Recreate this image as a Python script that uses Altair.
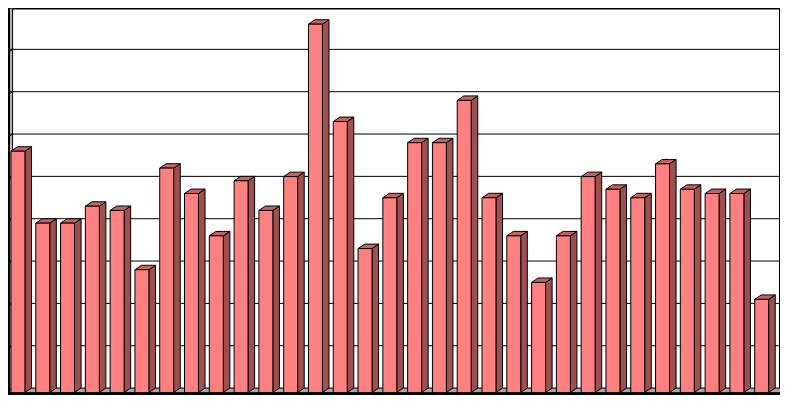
import altair as alt
import pandas as pd

# ---- data ----
categories = [str(i) for i in range(1, 32)]
values = [5.7, 4.0, 4.0, 4.4, 4.3, 2.9, 5.3, 4.7, 3.7, 5.0, 4.3, 5.1, 8.7, 6.4, 3.4, 4.6,
          5.9, 5.9, 6.9, 4.6, 3.7, 2.6, 3.7, 5.1, 4.8, 4.6, 5.4, 4.8, 4.7, 4.7, 2.2]
grid_values = [1, 2, 3, 4, 5, 6, 7, 8, 9]

# ---- geometry constants (in scale units) ----
FRONT = 0.5625   # front face width as fraction of one category slot
DX = 0.265       # depth offset along x
DY = 0.105       # depth offset along y (value units)
XA = -0.2        # front edge of left wall
XMIN, XMAX = -0.04, 31.02
YMAX = 9.07
W, H = 772, 385

xs = alt.Scale(domain=[XMIN, XMAX], nice=False, zero=False)
ys = alt.Scale(domain=[0, YMAX], nice=False, zero=False)

bars = pd.DataFrame({
    "cat": categories,
    "value": values,
    "left": [i for i in range(len(values))],
})
bars["right"] = bars["left"] + FRONT

side_rows, top_rows = [], []
for c, v, l, r in zip(bars["cat"], bars["value"], bars["left"], bars["right"]):
    side_rows += [dict(cat=c, x=r, y=v, y2=0), dict(cat=c, x=r + DX, y=v + DY, y2=DY)]
    top_rows += [dict(cat=c, x=l, y=v, y2=v), dict(cat=c, x=l + DX, y=v + DY, y2=v),
                 dict(cat=c, x=r, y=v + DY, y2=v), dict(cat=c, x=r + DX, y=v + DY, y2=v + DY)]
side_df = pd.DataFrame(side_rows)
top_df = pd.DataFrame(top_rows)

floor_df = pd.DataFrame([dict(x=XA, y=0, y2=0), dict(x=XA + DX, y=DY, y2=0),
                         dict(x=XMAX + 0.5, y=DY, y2=0), dict(x=XMAX + 0.5 + DX, y=DY, y2=DY)])
wall_df = pd.DataFrame([dict(x=XA, y=YMAX + 1, y2=0), dict(x=XA + DX, y=YMAX + 1 + DY, y2=DY)])
grid_df = pd.DataFrame({"g": grid_values})
grid_df["gy"] = grid_df["g"] + DY

X = lambda f: alt.X(f, type="quantitative", scale=xs, axis=None)
Y = lambda f: alt.Y(f, type="quantitative", scale=ys, axis=None)

wall = alt.Chart(wall_df).mark_area(color="#B0B0B0", stroke="black", strokeWidth=1, clip=True).encode(
    x=X("x"), y=Y("y"), y2="y2")
floor = alt.Chart(floor_df).mark_area(color="#A6A6A6", stroke="black", strokeWidth=1, clip=True).encode(
    x=X("x"), y=Y("y"), y2="y2")
grid = alt.Chart(grid_df).mark_rule(color="black", strokeWidth=1, clip=True).encode(
    x=alt.value(0), x2=alt.value(W), y=Y("gy"))
grid_wall = alt.Chart(grid_df).mark_rule(color="black", strokeWidth=1, clip=True).encode(
    x=X("x0:Q"), x2=alt.X2("x1:Q"), y=Y("g"), y2=alt.Y2("gy")
).transform_calculate(x0=str(XA), x1=str(XA + DX))

side = alt.Chart(side_df).mark_area(color="#9E4F4F", stroke="black", strokeWidth=1, opacity=1).encode(
    x=X("x"), y=Y("y"), y2="y2", detail="cat:N")
top = alt.Chart(top_df).mark_area(color="#C46262", stroke="black", strokeWidth=1, opacity=1).encode(
    x=X("x"), y=Y("y"), y2="y2", detail="cat:N")
front = alt.Chart(bars).mark_rect(color="#FF8080", stroke="black", strokeWidth=1).encode(
    x=X("left"), x2="right", y=Y("value"), y2=alt.Y2("zero:Q")
).transform_calculate(zero="0")

chart = alt.layer(wall, floor, grid, grid_wall, side, top, front).properties(
    width=W, height=H, background="black", padding=0,
).configure_view(fill="white", stroke="black", strokeWidth=2)

chart.save("out.html", embed_options={"renderer": "svg", "actions": False})
